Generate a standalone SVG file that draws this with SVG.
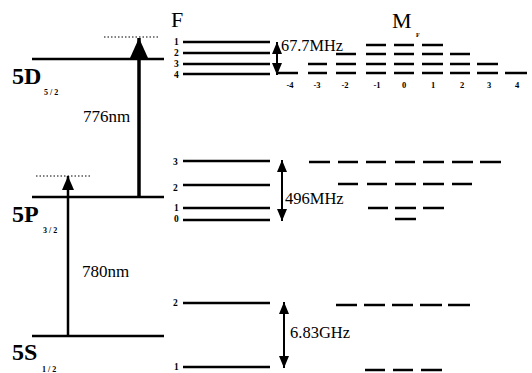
<svg xmlns="http://www.w3.org/2000/svg" width="532" height="373" viewBox="0 0 532 373">
<style>
.lv{stroke:#000;stroke-width:2.5;fill:none}
.hf{stroke:#000;stroke-width:2.5;fill:none}
.mf{stroke:#000;stroke-width:2.5;fill:none}
.dot{stroke:#000;stroke-width:1;stroke-dasharray:1.5 2;fill:none}
.t{font-family:"Liberation Serif","Times New Roman",serif;fill:#000}
.big{font-size:24px;font-weight:bold}
.sub{font-size:8px;font-weight:bold}
.lab{font-size:17px}
.num{font-size:9.5px;font-weight:bold}
.mn{font-size:8.5px;font-weight:bold;text-anchor:middle}
</style>
<defs>
<marker id="dh" viewBox="0 0 12 10" refX="12" refY="5" markerWidth="12" markerHeight="10" markerUnits="userSpaceOnUse" orient="auto-start-reverse">
<path d="M0,0 L12,5 L0,10 z" fill="#000"/>
</marker>
<marker id="bigh" viewBox="0 0 20 18" refX="20" refY="9" markerWidth="20" markerHeight="18" markerUnits="userSpaceOnUse" orient="auto">
<path d="M0,0 L20,9 L0,18 z" fill="#000"/>
</marker>
<marker id="smh" viewBox="0 0 14 12" refX="14" refY="6" markerWidth="14" markerHeight="12" markerUnits="userSpaceOnUse" orient="auto">
<path d="M0,0 L14,6 L0,12 z" fill="#000"/>
</marker>
</defs>
<rect width="532" height="373" fill="#fff"/>

<g id="level-5D">
<line class="lv" x1="32" y1="59" x2="164" y2="59"/>
<text class="t big" x="12" y="84">5D</text>
<text class="t sub" x="44" y="95">5 / 2</text>
</g>
<g id="level-5P">
<line class="lv" x1="32" y1="197" x2="164" y2="197"/>
<text class="t big" x="12" y="222">5P</text>
<text class="t sub" x="43" y="233">3 / 2</text>
</g>
<g id="level-5S">
<line class="lv" x1="32" y1="336" x2="164" y2="336"/>
<text class="t big" x="12" y="360">5S</text>
<text class="t sub" x="42" y="372">1 / 2</text>
</g>
<g id="virtual-levels">
<line class="dot" x1="104" y1="37" x2="160" y2="37"/>
<line class="dot" x1="36" y1="176" x2="92" y2="176"/>
</g>

<g id="header">
<text class="t" x="171" y="27" font-size="22">F</text>
<text class="t" x="392" y="28" font-size="22">M</text>
<text class="t" x="416" y="37" font-size="6" font-weight="bold">F</text>
</g>

<g id="hf-5D">
<line class="hf" x1="183" y1="42" x2="270" y2="42"/>
<line class="hf" x1="183" y1="53" x2="270" y2="53"/>
<line class="hf" x1="183" y1="64" x2="270" y2="64"/>
<line class="hf" x1="183" y1="74" x2="270" y2="74"/>
<text class="t num" x="174" y="45">1</text>
<text class="t num" x="174" y="56">2</text>
<text class="t num" x="174" y="67">3</text>
<text class="t num" x="174" y="78">4</text>
</g>
<g id="hf-5P">
<line class="hf" x1="183" y1="161" x2="270" y2="161"/>
<line class="hf" x1="183" y1="185" x2="270" y2="185"/>
<line class="hf" x1="183" y1="208" x2="270" y2="208"/>
<line class="hf" x1="183" y1="220" x2="270" y2="220"/>
<text class="t num" x="173" y="165">3</text>
<text class="t num" x="173" y="191">2</text>
<text class="t num" x="174" y="211">1</text>
<text class="t num" x="174" y="222">0</text>
</g>
<g id="hf-5S">
<line class="hf" x1="183" y1="303" x2="270" y2="303" stroke-width="3.3"/>
<line class="hf" x1="183" y1="367" x2="270" y2="367"/>
<text class="t num" x="173" y="306">2</text>
<text class="t num" x="174" y="370">1</text>
</g>

<g id="mf-5D">
<line class="mf" x1="366" y1="45" x2="386" y2="45"/>
<line class="mf" x1="394" y1="45" x2="414" y2="45"/>
<line class="mf" x1="422" y1="45" x2="443" y2="45"/>
<line class="mf" x1="336" y1="54" x2="356" y2="54"/>
<line class="mf" x1="366" y1="54" x2="386" y2="54"/>
<line class="mf" x1="394" y1="54" x2="414" y2="54"/>
<line class="mf" x1="422" y1="54" x2="443" y2="54"/>
<line class="mf" x1="450" y1="54" x2="470" y2="54"/>
<line class="mf" x1="308" y1="64" x2="327" y2="64"/>
<line class="mf" x1="336" y1="64" x2="356" y2="64"/>
<line class="mf" x1="366" y1="64" x2="386" y2="64"/>
<line class="mf" x1="394" y1="64" x2="414" y2="64"/>
<line class="mf" x1="422" y1="64" x2="443" y2="64"/>
<line class="mf" x1="450" y1="64" x2="470" y2="64"/>
<line class="mf" x1="477" y1="64" x2="498" y2="64"/>
<line class="mf" x1="278" y1="73" x2="298" y2="73"/>
<line class="mf" x1="308" y1="73" x2="327" y2="73"/>
<line class="mf" x1="336" y1="73" x2="356" y2="73"/>
<line class="mf" x1="366" y1="73" x2="386" y2="73"/>
<line class="mf" x1="394" y1="73" x2="414" y2="73"/>
<line class="mf" x1="422" y1="73" x2="443" y2="73"/>
<line class="mf" x1="450" y1="73" x2="470" y2="73"/>
<line class="mf" x1="477" y1="73" x2="498" y2="73"/>
<line class="mf" x1="505" y1="73" x2="527" y2="73"/>
<text class="t mn" x="290" y="88">-4</text>
<text class="t mn" x="317" y="88">-3</text>
<text class="t mn" x="345" y="88">-2</text>
<text class="t mn" x="377" y="88">-1</text>
<text class="t mn" x="404" y="88">0</text>
<text class="t mn" x="433" y="88">1</text>
<text class="t mn" x="462" y="88">2</text>
<text class="t mn" x="489" y="88">3</text>
<text class="t mn" x="517" y="88">4</text>
</g>
<g id="mf-5P">
<line class="mf" x1="309" y1="162" x2="330" y2="162"/>
<line class="mf" x1="338" y1="162" x2="358" y2="162"/>
<line class="mf" x1="366" y1="162" x2="386" y2="162"/>
<line class="mf" x1="395" y1="162" x2="415" y2="162"/>
<line class="mf" x1="423" y1="162" x2="444" y2="162"/>
<line class="mf" x1="452" y1="162" x2="473" y2="162"/>
<line class="mf" x1="480" y1="162" x2="501" y2="162"/>
<line class="mf" x1="338" y1="184" x2="358" y2="184"/>
<line class="mf" x1="367" y1="184" x2="387" y2="184"/>
<line class="mf" x1="395" y1="184" x2="416" y2="184"/>
<line class="mf" x1="423" y1="184" x2="444" y2="184"/>
<line class="mf" x1="452" y1="184" x2="472" y2="184"/>
<line class="mf" x1="368" y1="208" x2="388" y2="208"/>
<line class="mf" x1="395" y1="208" x2="416" y2="208"/>
<line class="mf" x1="423" y1="208" x2="444" y2="208"/>
<line class="mf" x1="395" y1="219" x2="416" y2="219" stroke-width="3.5"/>
</g>
<g id="mf-5S">
<line class="mf" x1="336" y1="305" x2="357" y2="305"/>
<line class="mf" x1="364" y1="305" x2="385" y2="305"/>
<line class="mf" x1="392" y1="305" x2="413" y2="305"/>
<line class="mf" x1="420" y1="305" x2="442" y2="305"/>
<line class="mf" x1="448" y1="305" x2="470" y2="305"/>
<line class="mf" x1="365" y1="370" x2="385" y2="370" stroke-width="4"/>
<line class="mf" x1="393" y1="370" x2="413" y2="370" stroke-width="4"/>
<line class="mf" x1="421" y1="370" x2="442" y2="370" stroke-width="4"/>
</g>

<g id="connectors">
<line x1="139" y1="197" x2="139" y2="38" stroke="#000" stroke-width="3.5" marker-end="url(#bigh)"/>
<line x1="68" y1="336" x2="68" y2="176" stroke="#000" stroke-width="2.5" marker-end="url(#smh)"/>
<line x1="277" y1="42" x2="277" y2="75" stroke="#000" stroke-width="2" marker-start="url(#dh)" marker-end="url(#dh)"/>
<line x1="282" y1="160" x2="282" y2="221" stroke="#000" stroke-width="2" marker-start="url(#dh)" marker-end="url(#dh)"/>
<line x1="284" y1="302" x2="284" y2="368" stroke="#000" stroke-width="2" marker-start="url(#dh)" marker-end="url(#dh)"/>
</g>

<g id="labels">
<text class="t lab" x="83" y="122">776nm</text>
<text class="t lab" x="82" y="277">780nm</text>
<text class="t" x="281" y="51" font-size="16.3">67.7MHz</text>
<text class="t" x="285" y="204" font-size="16.5">496MHz</text>
<text class="t" x="290" y="338" font-size="16.5">6.83GHz</text>
</g>
</svg>
